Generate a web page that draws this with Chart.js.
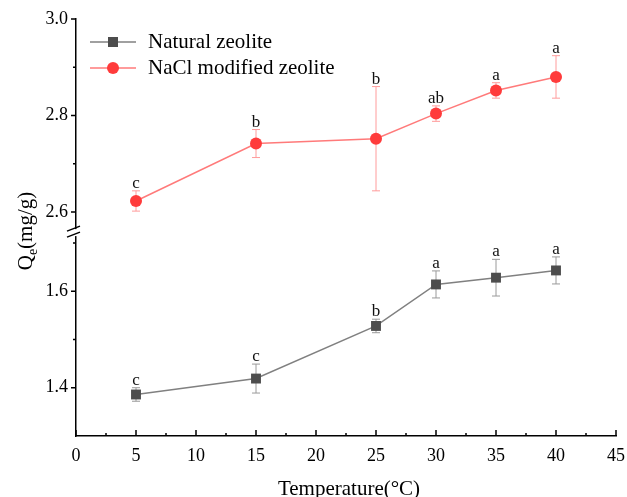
<!DOCTYPE html>
<html>
<head>
<meta charset="utf-8">
<script src="https://cdn.jsdelivr.net/npm/chart.js@4"></script>
<style>
  html, body { margin: 0; padding: 0; background: #fff; }
  #wrap { width: 627px; height: 497px; position: relative; }
</style>
</head>
<body>
<div id="wrap"><canvas id="qe_chart"></canvas></div>
<script>
// Temperature (°C)
const temps = [5, 15, 25, 30, 35, 40];

// Qe (mg/g) and standard deviations
const naturalQe = [1.386, 1.419, 1.528, 1.614, 1.628, 1.643];
const naturalErr = [0.014, 0.030, 0.014, 0.028, 0.038, 0.028];
const naclQe = [2.623, 2.742, 2.752, 2.804, 2.852, 2.880];
const naclErr = [0.021, 0.029, 0.108, 0.016, 0.016, 0.044];

// significance letters
const naturalLetters = ['c', 'c', 'b', 'a', 'a', 'a'];
const naclLetters = ['c', 'b', 'b', 'ab', 'a', 'a'];

// tick labels
const xTicks = [0, 5, 10, 15, 20, 25, 30, 35, 40, 45];
const xMinorTicks = [2.5, 7.5, 12.5, 17.5, 22.5, 27.5, 32.5, 37.5, 42.5];
const upperTicks = [2.6, 2.8, 3.0];
const upperMinorTicks = [2.7, 2.9];
const lowerTicks = [1.4, 1.6];
const lowerMinorTicks = [1.5, 1.7];

const SERIF = '"Liberation Serif", "Times New Roman", serif';
const RED = '#ff3b3b';
const GRAY = '#4d4d4d';

const extrasPlugin = {
    id: 'extras',
    beforeDatasetsDraw(chart) {
        // error bars under the markers
        const ctx = chart.ctx;
        const x = chart.scales.x;
        const bars = [
            { scale: chart.scales.yLow, vals: naturalQe, errs: naturalErr, color: '#9a9a9a' },
            { scale: chart.scales.yHigh, vals: naclQe, errs: naclErr, color: '#ff9c9c' }
        ];
        ctx.save();
        ctx.lineWidth = 1;
        bars.forEach(b => {
            ctx.strokeStyle = b.color;
            temps.forEach((t, i) => {
                const px = x.getPixelForValue(t);
                const top = b.scale.getPixelForValue(b.vals[i] + b.errs[i]);
                const bot = b.scale.getPixelForValue(b.vals[i] - b.errs[i]);
                ctx.beginPath();
                ctx.moveTo(px, top); ctx.lineTo(px, bot);
                ctx.moveTo(px - 4, top); ctx.lineTo(px + 4, top);
                ctx.moveTo(px - 4, bot); ctx.lineTo(px + 4, bot);
                ctx.stroke();
            });
        });
        ctx.restore();
    },
    afterDraw(chart) {
        const ctx = chart.ctx;
        const x = chart.scales.x;
        const yLow = chart.scales.yLow;
        const yHigh = chart.scales.yHigh;
        const axisX = chart.chartArea.left;
        const axisY = chart.chartArea.bottom;
        ctx.save();

        // letters above error bars
        ctx.fillStyle = '#111';
        ctx.font = '17px ' + SERIF;
        ctx.textAlign = 'center';
        ctx.textBaseline = 'alphabetic';
        temps.forEach((t, i) => {
            const px = x.getPixelForValue(t);
            ctx.fillText(naturalLetters[i], px, yLow.getPixelForValue(naturalQe[i] + naturalErr[i]) - 3);
            ctx.fillText(naclLetters[i], px, yHigh.getPixelForValue(naclQe[i] + naclErr[i]) - 3);
        });

        // ticks: y outward, x inward
        ctx.strokeStyle = '#000';
        ctx.lineWidth = 1.5;
        ctx.beginPath();
        const yTick = (scale, v, len) => {
            const py = scale.getPixelForValue(v);
            ctx.moveTo(axisX, py); ctx.lineTo(axisX - len, py);
        };
        upperTicks.forEach(v => yTick(yHigh, v, 5));
        upperMinorTicks.forEach(v => yTick(yHigh, v, 3));
        lowerTicks.forEach(v => yTick(yLow, v, 5));
        lowerMinorTicks.forEach(v => yTick(yLow, v, 3));
        xTicks.forEach(v => {
            const px = x.getPixelForValue(v);
            ctx.moveTo(px, axisY); ctx.lineTo(px, axisY - 6);
        });
        xMinorTicks.forEach(v => {
            const px = x.getPixelForValue(v);
            ctx.moveTo(px, axisY); ctx.lineTo(px, axisY - 3);
        });
        ctx.stroke();

        // axis break
        const gap = yHigh.bottom;
        ctx.fillStyle = '#fff';
        ctx.fillRect(axisX - 3, gap - 3, 6, 7);
        ctx.beginPath();
        ctx.moveTo(axisX - 9, gap - 1); ctx.lineTo(axisX + 4, gap - 6);
        ctx.moveTo(axisX - 9, gap + 5); ctx.lineTo(axisX + 4, gap);
        ctx.stroke();

        // x title
        ctx.fillStyle = '#000';
        ctx.font = '21px ' + SERIF;
        ctx.textAlign = 'center';
        ctx.fillText('Temperature(°C)', 349, 495);

        // y title with subscript
        ctx.translate(32, 231);
        ctx.rotate(-Math.PI / 2);
        ctx.textAlign = 'left';
        const big = '21px ' + SERIF, small = '14px ' + SERIF;
        ctx.font = big;
        const wQ = ctx.measureText('Q').width;
        const wRest = ctx.measureText('(mg/g)').width;
        ctx.font = small;
        const wE = ctx.measureText('e').width;
        let sx = -(wQ + wE + wRest) / 2;
        ctx.font = big;
        ctx.fillText('Q', sx, 0);
        sx += wQ;
        ctx.font = small;
        ctx.fillText('e', sx, 5);
        sx += wE;
        ctx.font = big;
        ctx.fillText('(mg/g)', sx, 0);
        ctx.setTransform(1, 0, 0, 1, 0, 0);

        // legend
        const items = [
            { label: 'Natural zeolite', line: '#808080', fill: GRAY, style: 'square', y: 42 },
            { label: 'NaCl modified zeolite', line: '#ff7a7a', fill: RED, style: 'circle', y: 68 }
        ];
        items.forEach(it => {
            ctx.strokeStyle = it.line;
            ctx.lineWidth = 1.5;
            ctx.beginPath();
            ctx.moveTo(90, it.y); ctx.lineTo(136, it.y);
            ctx.stroke();
            ctx.fillStyle = it.fill;
            if (it.style === 'square') {
                ctx.fillRect(108, it.y - 5, 10, 10);
            } else {
                ctx.beginPath();
                ctx.arc(113, it.y, 6, 0, Math.PI * 2);
                ctx.fill();
            }
            ctx.fillStyle = '#000';
            ctx.font = '21px ' + SERIF;
            ctx.textBaseline = 'middle';
            ctx.fillText(it.label, 148, it.y);
        });
        ctx.restore();
    }
};

const ctx = document.getElementById('qe_chart').getContext('2d');
const qeChart = new Chart(ctx, {
    type: 'line',
    data: {
        datasets: [{
            label: 'Natural zeolite',
            data: temps.map((t, i) => ({ x: t, y: naturalQe[i] })),
            yAxisID: 'yLow',
            borderColor: '#808080',
            borderWidth: 1.5,
            pointStyle: 'rect',
            pointRadius: 7,
            pointBackgroundColor: GRAY,
            pointBorderWidth: 0,
            tension: 0
        }, {
            label: 'NaCl modified zeolite',
            data: temps.map((t, i) => ({ x: t, y: naclQe[i] })),
            yAxisID: 'yHigh',
            borderColor: '#ff7a7a',
            borderWidth: 1.5,
            pointStyle: 'circle',
            pointRadius: 6,
            pointBackgroundColor: RED,
            pointBorderWidth: 0,
            tension: 0
        }]
    },
    options: {
        responsive: true,
        maintainAspectRatio: false,
        animation: false,
        layout: { padding: { top: 19, right: 11, left: 0, bottom: 0 } },
        plugins: { legend: { display: false }, tooltip: { enabled: false } },
        scales: {
            x: {
                type: 'linear',
                min: 0,
                max: 45,
                afterBuildTicks: s => { s.ticks = xTicks.map(v => ({ value: v })); },
                afterFit: s => { s.height = 61; s.paddingRight = 0; },
                ticks: { font: { family: SERIF, size: 18 }, color: '#000', padding: 9 },
                grid: { display: true, drawOnChartArea: false, drawTicks: false },
                border: { display: true, color: '#000', width: 1.5 }
            },
            yLow: {
                type: 'linear',
                position: 'left',
                stack: 'qe',
                stackWeight: 0.4224,
                min: 1.3,
                max: 1.7224,
                afterBuildTicks: s => { s.ticks = lowerTicks.map(v => ({ value: v })); },
                afterFit: s => { s.width = 76; },
                ticks: { font: { family: SERIF, size: 18 }, color: '#000', padding: 8,
                         callback: v => v.toFixed(1) },
                grid: { display: true, drawOnChartArea: false, drawTicks: false },
                border: { display: true, color: '#000', width: 1.5 }
            },
            yHigh: {
                type: 'linear',
                position: 'left',
                stack: 'qe',
                stackWeight: 0.4415,
                min: 2.5585,
                max: 3.0,
                afterBuildTicks: s => { s.ticks = upperTicks.map(v => ({ value: v })); },
                afterFit: s => { s.width = 76; },
                ticks: { font: { family: SERIF, size: 18 }, color: '#000', padding: 8,
                         callback: v => v.toFixed(1) },
                grid: { display: true, drawOnChartArea: false, drawTicks: false },
                border: { display: true, color: '#000', width: 1.5 }
            }
        }
    },
    plugins: [extrasPlugin]
});
</script>
</body>
</html>
